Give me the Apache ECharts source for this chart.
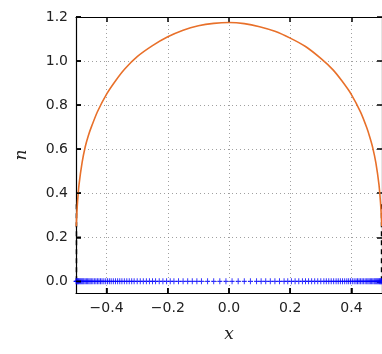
<!DOCTYPE html>
<html>
<head>
<meta charset="utf-8">
<script src="https://cdn.jsdelivr.net/npm/echarts@6/dist/echarts.min.js"></script>
<style>
  html, body { margin: 0; padding: 0; background: #fff; }
  #chart { width: 382px; height: 354px; }
</style>
</head>
<body>
<div id="chart"></div>
<script>
// density curve n(x)
const curveX = [-0.499, -0.498, -0.495, -0.49, -0.48, -0.47, -0.46, -0.45, -0.43, -0.40, -0.37, -0.34,
  -0.30, -0.25, -0.20, -0.15, -0.10, -0.05, 0.0, 0.05, 0.10, 0.15, 0.20, 0.25, 0.30, 0.34, 0.37,
  0.40, 0.43, 0.45, 0.46, 0.47, 0.48, 0.49, 0.495, 0.498, 0.499];
const curveN = [0.25, 0.29, 0.36, 0.44, 0.54, 0.61, 0.66, 0.70, 0.77, 0.85, 0.912, 0.965,
  1.020, 1.070, 1.110, 1.140, 1.160, 1.171, 1.175, 1.170, 1.156, 1.135, 1.104, 1.066, 1.012, 0.960, 0.908,
  0.848, 0.768, 0.698, 0.655, 0.605, 0.538, 0.44, 0.36, 0.29, 0.25];

// particle positions along n = 0
const pointX = [-0.5, -0.498, -0.496, -0.494, -0.492, -0.489, -0.486, -0.483, -0.48, -0.477, -0.474,
  -0.47, -0.466, -0.462, -0.458, -0.454, -0.45, -0.445, -0.44, -0.435, -0.43, -0.425, -0.42, -0.415,
  -0.409, -0.403, -0.397, -0.391, -0.385, -0.378, -0.371, -0.364, -0.357, -0.35, -0.342, -0.334,
  -0.326, -0.318, -0.31, -0.30, -0.29, -0.28, -0.27, -0.26, -0.25, -0.24, -0.228, -0.216, -0.204,
  -0.192, -0.18, -0.165, -0.15, -0.135, -0.12, -0.105, -0.09, -0.07, -0.05, -0.03, -0.01,
  0.01, 0.03, 0.05, 0.07, 0.09, 0.105, 0.12, 0.135, 0.15, 0.165, 0.18, 0.192, 0.204, 0.216, 0.228,
  0.24, 0.25, 0.26, 0.27, 0.28, 0.29, 0.30, 0.31, 0.318, 0.326, 0.334, 0.342, 0.35, 0.357, 0.364,
  0.371, 0.378, 0.385, 0.391, 0.397, 0.403, 0.409, 0.415, 0.42, 0.425, 0.43, 0.435, 0.44, 0.445,
  0.45, 0.454, 0.458, 0.462, 0.466, 0.47, 0.474, 0.477, 0.48, 0.483, 0.486, 0.489, 0.492, 0.494,
  0.496, 0.498, 0.5];

// dashed boundary marks at the edges
const edgeLeft = [[-0.4985, 0.0], [-0.4985, 0.36]];
const edgeRight = [[0.4985, 0.0], [0.4985, 0.36]];

const xTicks = [-0.4, -0.2, 0.0, 0.2, 0.4];
const yTicks = [0.0, 0.2, 0.4, 0.6, 0.8, 1.0, 1.2];
const xMin = -0.5, xMax = 0.5, yMin = -0.053, yMax = 1.2;

const fmt = (v) => Number(v).toFixed(1).replace('-', '\u2212');

const chart = echarts.init(document.getElementById('chart'), null, { renderer: 'canvas' });

const tickStyle = { color: '#000', width: 1.5 };
const gridLine = { show: true, lineStyle: { color: '#888', width: 0.8, type: [1, 3] } };
const labelFont = { fontFamily: 'DejaVu Sans', fontSize: 14, color: '#222' };
const spine = { show: true, onZero: false, lineStyle: { color: '#000', width: 1.2 } };
const nameFont = { fontFamily: 'DejaVu Serif', fontStyle: 'italic', fontSize: 17, color: '#222' };

// axis that only draws the inward tick marks
function tickAxis(pos, ticks, min, max) {
  return {
    type: 'value', min: min, max: max, position: pos,
    axisLine: spine,
    axisTick: { show: true, inside: true, length: 5, lineStyle: tickStyle, customValues: ticks },
    axisLabel: { show: false },
    splitLine: { show: false }
  };
}

chart.setOption({
  animation: false,
  backgroundColor: '#fff',
  grid: { left: 76, right: -4, top: 17, bottom: 61 },
  xAxis: [
    {
      type: 'value', min: xMin, max: xMax, position: 'bottom',
      name: 'x', nameLocation: 'middle', nameGap: 33, nameTextStyle: nameFont,
      axisLine: spine,
      axisTick: { show: true, inside: true, length: 5, lineStyle: tickStyle, customValues: xTicks },
      axisLabel: Object.assign({ margin: 8, formatter: fmt, customValues: xTicks }, labelFont),
      splitLine: gridLine
    },
    tickAxis('top', xTicks, xMin, xMax)
  ],
  yAxis: [
    {
      type: 'value', min: yMin, max: yMax, position: 'left',
      name: 'n', nameLocation: 'middle', nameGap: 46, nameRotate: 90, nameTextStyle: nameFont,
      axisLine: spine,
      axisTick: { show: true, inside: true, length: 5, lineStyle: tickStyle, customValues: yTicks },
      axisLabel: Object.assign({ margin: 8, formatter: fmt, customValues: yTicks }, labelFont),
      splitLine: gridLine
    },
    tickAxis('right', yTicks, yMin, yMax)
  ],
  series: [
    {
      type: 'line',
      data: curveX.map((x, i) => [x, curveN[i]]),
      showSymbol: false,
      smooth: 0.2,
      lineStyle: { color: '#e8702a', width: 1.6 },
      z: 3
    },
    {
      type: 'line',
      data: edgeLeft,
      showSymbol: false,
      lineStyle: { color: '#000', width: 1.5, type: [5, 4] },
      z: 2
    },
    {
      type: 'line',
      data: edgeRight,
      showSymbol: false,
      lineStyle: { color: '#000', width: 1.5, type: [5, 4] },
      z: 2
    },
    {
      type: 'scatter',
      data: pointX.map((x) => [x, 0]),
      symbol: 'path://M4,0h2v4h4v2h-4v4h-2v-4h-4v-2h4z',
      symbolSize: [5, 6],
      itemStyle: { color: '#0000ff', opacity: 0.8 },
      z: 4
    }
  ]
});

// inward ticks on the bottom and left spines, placed through the chart's own scales
const marks = [];
yTicks.forEach((v) => {
  const p = chart.convertToPixel({ gridIndex: 0 }, [xMin, v]);
  marks.push({ type: 'line', shape: { x1: p[0], y1: p[1], x2: p[0] + 5, y2: p[1] },
    style: { stroke: '#000', lineWidth: 1.5 }, z: 100 });
});
xTicks.forEach((v) => {
  const p = chart.convertToPixel({ gridIndex: 0 }, [v, yMin]);
  marks.push({ type: 'line', shape: { x1: p[0], y1: p[1], x2: p[0], y2: p[1] - 5 },
    style: { stroke: '#000', lineWidth: 1.5 }, z: 100 });
});
chart.setOption({ graphic: marks });
</script>
</body>
</html>
